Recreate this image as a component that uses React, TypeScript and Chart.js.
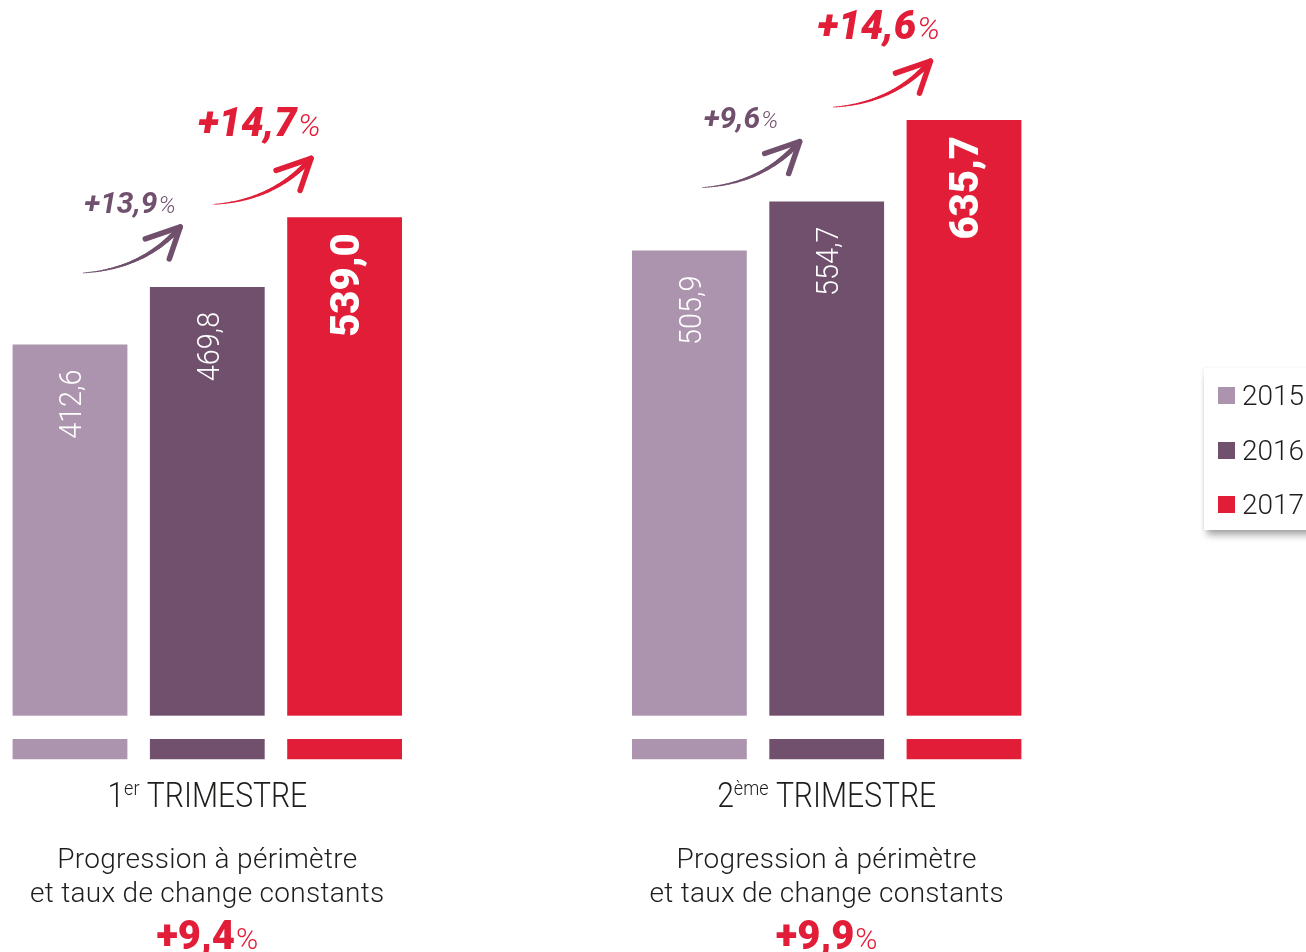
import React, { useEffect, useRef } from 'react';
import { Chart, registerables } from 'chart.js';

Chart.register(...registerables);

// ---- data ----
const quarterNumber = ['1', '2'];
const quarterSuffix = ['er', 'ème'];
const quarterWord = ['TRIMESTRE', 'TRIMESTRE'];
const years = ['2015', '2016', '2017'];
const values2015 = [412.6, 505.9];
const values2016 = [469.8, 554.7];
const values2017 = [539.0, 635.7];
const growth2016 = ['+13,9', '+9,6'];
const growth2017 = ['+14,7', '+14,6'];
const constantLine1 = ['Progression à périmètre', 'Progression à périmètre'];
const constantLine2 = ['et taux de change constants', 'et taux de change constants'];
const constantGrowth = ['+9,4', '+9,9'];
const colors = ['#ad94ae', '#70506d', '#e11d38'];

const series = [values2015, values2016, values2017];
const FONT = 'Roboto, "Open Sans", Lato, sans-serif';
const X_MIN = -0.33468;
const X_MAX = 1.77381;
const Y_MIN = -191.6;
const Y_MAX = 755.1;

const fmt = (v: number) => v.toFixed(1).replace('.', ',');

function drawArrow(ctx: CanvasRenderingContext2D, tx: number, ty: number, color: string) {
  const S = { x: tx - 97, y: ty + 46 };
  const C = { x: S.x + 60, y: S.y - 4 };
  ctx.save();
  ctx.strokeStyle = color;
  ctx.lineCap = 'round';
  ctx.lineJoin = 'round';
  const N = 40;
  let px = S.x, py = S.y;
  for (let k = 1; k <= N; k++) {
    const t = k / N;
    const x = (1 - t) * (1 - t) * S.x + 2 * t * (1 - t) * C.x + t * t * tx;
    const y = (1 - t) * (1 - t) * S.y + 2 * t * (1 - t) * C.y + t * t * ty;
    ctx.lineWidth = 0.6 + 4.6 * t;
    ctx.beginPath();
    ctx.moveTo(px, py);
    ctx.lineTo(x, y);
    ctx.stroke();
    px = x; py = y;
  }
  ctx.lineWidth = 5.5;
  ctx.beginPath();
  ctx.moveTo(tx - 35, ty + 12);
  ctx.lineTo(tx, ty);
  ctx.lineTo(tx - 11, ty + 32);
  ctx.stroke();
  ctx.restore();
  return S;
}

function drawGrowth(ctx: CanvasRenderingContext2D, x: number, y: number, num: string, color: string, big: boolean) {
  ctx.save();
  ctx.fillStyle = color;
  ctx.textAlign = 'left';
  ctx.textBaseline = 'alphabetic';
  ctx.font = big ? `italic 900 40px ${FONT}` : `italic 700 30px ${FONT}`;
  ctx.fillText(num, x, y);
  const w = ctx.measureText(num).width;
  ctx.font = big ? `italic 300 32px ${FONT}` : `italic 300 24px ${FONT}`;
  ctx.fillText('%', x + w + 1, y);
  ctx.restore();
}

const decorPlugin = {
  id: 'decor',
  afterDatasetsDraw(chart: any) {
    const ctx: CanvasRenderingContext2D = chart.ctx;
    const xs = chart.scales.x;
    const ys = chart.scales.y;
    // white break band across the bars
    const bandTop = ys.getPixelForValue(43.4);
    const bandBottom = ys.getPixelForValue(20.2);
    ctx.save();
    ctx.fillStyle = '#ffffff';
    ctx.fillRect(0, bandTop, chart.width, bandBottom - bandTop);
    ctx.restore();

    // values inside bars
    series.forEach((vals, di) => {
      const meta = chart.getDatasetMeta(di);
      meta.data.forEach((el: any, i: number) => {
        const bold = di === 2;
        const size = bold ? 40 : 32;
        const gap = bold ? 16 : 25;
        ctx.save();
        ctx.translate(el.x + size * 0.355, el.y + gap);
        ctx.rotate(-Math.PI / 2);
        ctx.scale(bold ? 1 : 0.9, 1);
        ctx.fillStyle = '#ffffff';
        ctx.textAlign = 'right';
        ctx.textBaseline = 'alphabetic';
        ctx.font = bold ? `900 ${size}px ${FONT}` : `300 ${size}px ${FONT}`;
        ctx.fillText(fmt(vals[i]), 0, 0);
        ctx.restore();
      });
    });

    // growth arrows
    const m1 = chart.getDatasetMeta(1);
    const m2 = chart.getDatasetMeta(2);
    for (let i = 0; i < quarterNumber.length; i++) {
      const b1 = m1.data[i];
      const s1 = drawArrow(ctx, b1.x - 27, b1.y - 60, colors[1]);
      drawGrowth(ctx, s1.x + 1, s1.y - 60, growth2016[i], colors[1], false);
      const b2 = m2.data[i];
      const s2 = drawArrow(ctx, b2.x - 33.5, b2.y - 59, colors[2]);
      drawGrowth(ctx, s2.x - 16, s2.y - 68, growth2017[i], colors[2], true);
    }

    // category texts
    for (let i = 0; i < quarterNumber.length; i++) {
      const cx = xs.getPixelForValue(i);
      ctx.save();
      ctx.fillStyle = '#1d1d1b';
      ctx.textBaseline = 'alphabetic';
      ctx.textAlign = 'left';
      const sx = 0.86;
      const mainFont = `300 35px ${FONT}`;
      const supFont = `300 21px ${FONT}`;
      ctx.font = mainFont;
      const wNum = ctx.measureText(quarterNumber[i]).width;
      const wWord = ctx.measureText(' ' + quarterWord[i]).width;
      ctx.font = supFont;
      const wSup = ctx.measureText(quarterSuffix[i]).width;
      const total = (wNum + wSup + wWord) * sx;
      const base = 807;
      ctx.save();
      ctx.translate(cx - total / 2, base);
      ctx.scale(sx, 1);
      let x = 0;
      ctx.font = mainFont;
      ctx.fillText(quarterNumber[i], x, 0);
      x += wNum;
      ctx.font = supFont;
      ctx.fillText(quarterSuffix[i], x, -12);
      x += wSup;
      ctx.font = mainFont;
      ctx.fillText(' ' + quarterWord[i], x, 0);
      ctx.restore();

      ctx.textAlign = 'center';
      ctx.font = `300 28px ${FONT}`;
      (ctx as any).letterSpacing = '0.3px';
      ctx.fillText(constantLine1[i], cx, 868);
      ctx.fillText(constantLine2[i], cx, 902);
      (ctx as any).letterSpacing = '0px';

      ctx.textAlign = 'left';
      ctx.fillStyle = colors[2];
      ctx.font = `900 40px ${FONT}`;
      const wg = ctx.measureText(constantGrowth[i]).width;
      ctx.font = `300 30px ${FONT}`;
      const wp = ctx.measureText('%').width;
      const gx = cx - (wg + wp + 1) / 2;
      ctx.font = `900 40px ${FONT}`;
      ctx.fillText(constantGrowth[i], gx, 949);
      ctx.font = `300 30px ${FONT}`;
      ctx.fillText('%', gx + wg + 1, 949);
      ctx.restore();
    }
  },
};

export default function App() {
  const ref = useRef<HTMLCanvasElement>(null);
  useEffect(() => {
    const canvas = ref.current!;
    const chart = new Chart(canvas, {
      type: 'bar',
      data: {
        datasets: years.map((y, di) => ({
          label: y,
          data: series[di].map((v, i) => ({ x: i, y: v })),
          backgroundColor: colors[di],
          borderWidth: 0,
          categoryPercentage: 0.665,
          barPercentage: 0.836,
        })),
      },
      options: {
        responsive: false,
        animation: false,
        events: [],
        layout: { padding: 0 },
        scales: {
          x: {
            type: 'linear',
            display: false,
            offset: false,
            min: X_MIN,
            max: X_MAX,
            ticks: { stepSize: 1, includeBounds: false },
          },
          y: { display: false, min: Y_MIN, max: Y_MAX },
        },
        plugins: { legend: { display: false }, tooltip: { enabled: false } },
      } as any,
      plugins: [decorPlugin],
    });
    return () => chart.destroy();
  }, []);

  return (
    <div style={{ position: 'absolute', left: 0, top: 0, width: 1306, height: 952, overflow: 'hidden', background: '#fff' }}>
      <canvas ref={ref} width={1306} height={952} style={{ position: 'absolute', left: 0, top: 0 }} />
      <div
        style={{
          position: 'absolute',
          left: 1204,
          top: 368,
          width: 140,
          height: 162,
          background: '#fff',
          boxShadow: '1px 7px 7px -2px rgba(0,0,0,0.35), -1px 0 3px rgba(0,0,0,0.08)',
        }}
      />
      {years.map((y, i) => (
        <div
          key={y}
          style={{
            position: 'absolute',
            left: 1218,
            top: 381.8 + i * 54.5,
            height: 28,
            display: 'flex',
            alignItems: 'center',
            fontFamily: FONT,
            fontWeight: 300,
            fontSize: 28,
            color: '#1d1d1b',
            whiteSpace: 'nowrap',
          }}
        >
          <span style={{ display: 'inline-block', width: 17, height: 17, background: colors[i], marginRight: 7 }} />
          <span>{y}</span>
        </div>
      ))}
    </div>
  );
}
